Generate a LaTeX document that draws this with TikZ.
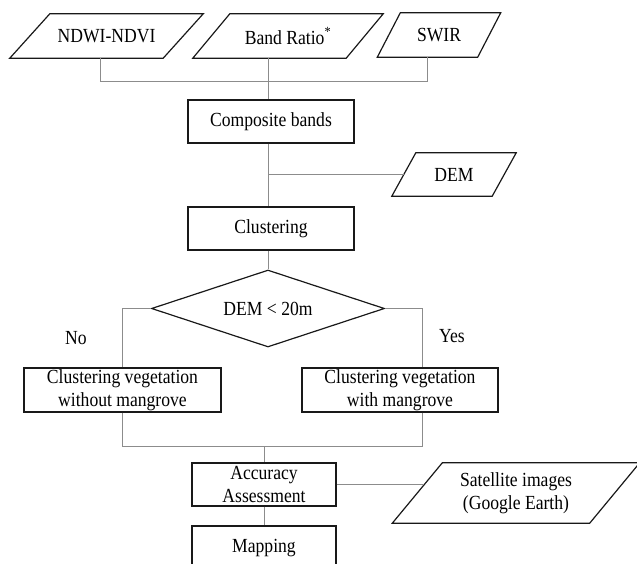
\documentclass[tikz,border=0pt]{standalone}
\usepackage{fontspec}
\setmainfont[FakeStretch=0.88]{Liberation Serif}
\usetikzlibrary{shapes.geometric,calc}
\tikzset{
  frame/.style={draw=black!90, line width=1.2pt},
  procbox/.style={frame, rectangle, inner sep=0pt, align=center},
  datain/.style={rectangle, inner sep=0pt, align=center},
  link/.style={draw=black!45, line width=0.9pt},
}
% slanted outline round a data node: #1 node, #2 half slant
\newcommand\slantframe[2]{%
  \draw[frame] ([xshift=#2]#1.north west) -- ([xshift=#2]#1.north east)
    -- ([xshift=-#2]#1.south east) -- ([xshift=-#2]#1.south west) -- cycle;}
\begin{document}
\begin{tikzpicture}[x=1pt, y=-1pt, font=\fontsize{20}{22.5}\selectfont]
      \useasboundingbox (0,0) rectangle (637,564);
      %
      \node[datain, minimum width=153, minimum height=44] (ndwi) at (106.5,36) {NDWI-NDVI};   % inputs
      \node[datain, minimum width=153, minimum height=44] (band) at (288,36) {Band Ratio\textsuperscript{*}};
      \node[datain, minimum width=100, minimum height=44] (swir) at (439,35) {SWIR};
      \slantframe{ndwi}{20pt}
      \slantframe{band}{18.5pt}
      \slantframe{swir}{11.5pt}
      %
      \coordinate (hub) at (268,81);
      \node[procbox, minimum width=166, minimum height=43] (comp) at (271,121.5) {Composite bands};
      \node[datain, minimum width=100, minimum height=43] (dem) at (454,174.5) {DEM};
      \slantframe{dem}{12pt}
      \node[procbox, minimum width=166, minimum height=43] (clus) at (271,228.5) {Clustering};
      %
      \node[frame, diamond, aspect=3, inner sep=0pt, minimum width=233, minimum height=77] (cond) at (268,308.5) {DEM < 20m};
      \node (no) at (76,338) {No};
      \node (yes) at (452,336) {Yes};
      %%
      \node[procbox, minimum width=197, minimum height=44] (lbox) at (122.5,390) {Clustering vegetation\\without mangrove};
      \node[procbox, minimum width=196, minimum height=44] (rbox) at (400,390) {Clustering vegetation\\with mangrove};
      \coordinate (merge) at (264,446);
      %
      \node[procbox, minimum width=144, minimum height=43] (acc) at (264,484.5) {Accuracy\\Assessment};
      \node[datain, minimum width=197, minimum height=60] (sat) at (516,493) {Satellite images\\(Google Earth)};
      \slantframe{sat}{25pt}
      \node[procbox, minimum width=144, minimum height=44] (map) at (264,548) {Mapping};
      %
      \draw[link] ([xshift=-6pt]ndwi.south) |- (hub);           % top joint
      \draw[link] ([xshift=-11.5pt]swir.south) |- (hub);
      \draw[link] (band.south -| hub) -- (hub |- comp.north);
      \draw[link] (hub |- comp.south) -- (hub |- clus.north);    % DEM joint
      \draw[link] (dem.west) -- (dem.west -| hub);
      \draw[link] (hub |- clus.south) -- (cond.north);
      %
      \draw[link] (cond.west) -| (lbox.north);                   % branches
      \draw[link] (cond.east) -| ([xshift=22pt]rbox.north);
      \draw[link] (lbox.south) |- (merge);
      \draw[link] ([xshift=22pt]rbox.south) |- (merge);
      \draw[link] (merge) -- (acc.north);
      %
      \draw[link] (acc.east) -- ($(acc.east -| sat.west)+(7,0)$);
      \draw[link] (acc.south) -- (map.north);
    \end{tikzpicture}
\end{document}
